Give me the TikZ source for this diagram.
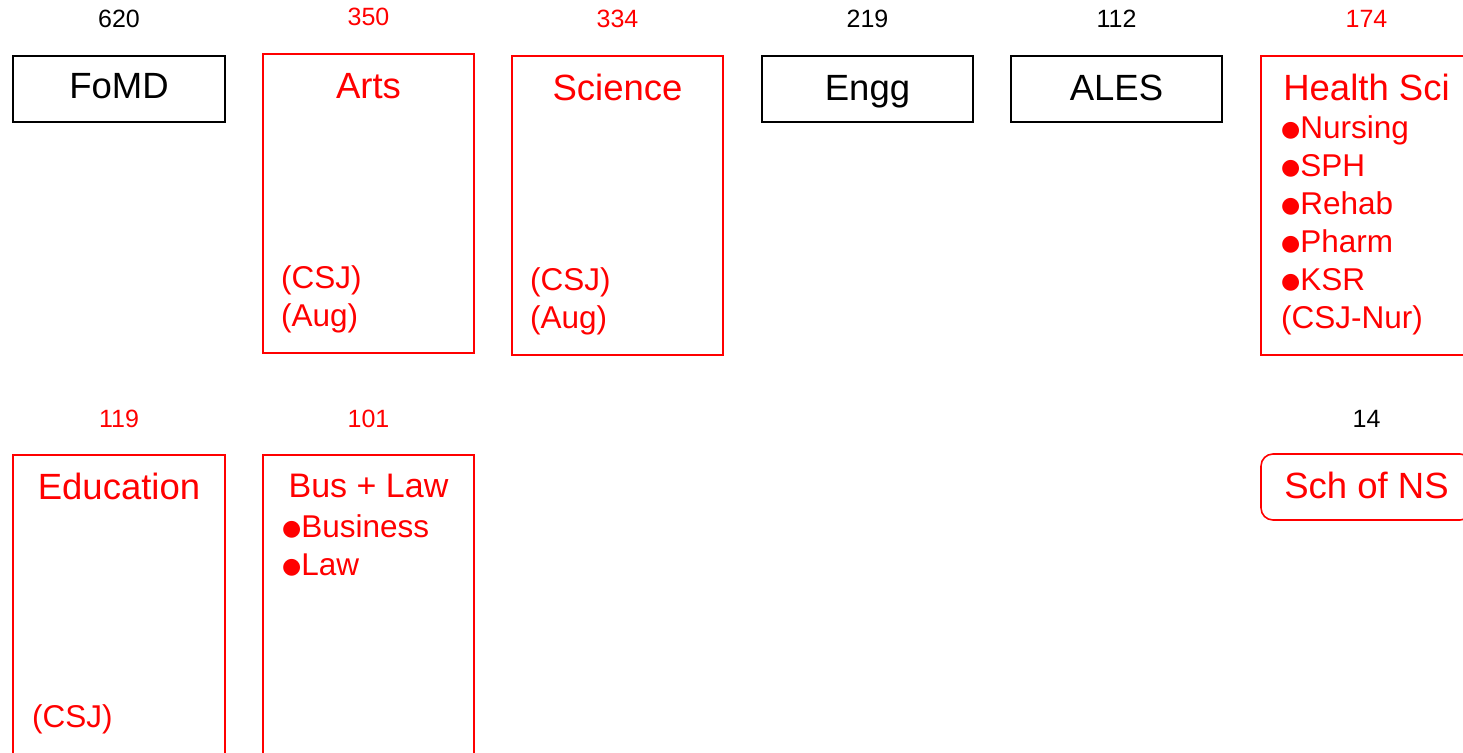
\documentclass[tikz,border=0pt]{standalone}
\usepackage{fontspec}
\setmainfont{Liberation Sans}
\newfontfamily\dejavu{DejaVu Sans}
\newcommand\bul{\raisebox{2pt}{\dejavu\fontsize{22}{22}\selectfont ●}}
\tikzset{
  box/.style={draw, line width=1.6pt, inner sep=0pt, rectangle, minimum width=211pt},
  shortbox/.style={box, minimum height=66pt},
  tallbox/.style={box, minimum height=299pt},
  num/.style={font=\fontsize{25}{25}\selectfont, anchor=base, inner sep=0pt},
  ttl/.style={font=\fontsize{36.5}{36.5}\selectfont, anchor=base, inner sep=0pt},
  itm/.style={font=\fontsize{31.5}{38}\selectfont, anchor=base west, inner sep=0pt},
}
\begin{document}
\begin{tikzpicture}[x=1pt,y=-1pt]
\useasboundingbox (0,0) rectangle (1463,752);
\clip (0,0) rectangle (1463,752);
% top row numbers
\node[num] (n1) at (119,28) {620};
\node[num,red] (n2) at (368.5,26) {350};
\node[num,red] (n3) at (617.5,28) {334};
\node[num] (n4) at (867.5,28) {219};
\node[num] (n5) at (1116.5,28) {112};
\node[num,red] (n6) at (1366.5,28) {174};
% bottom row numbers
\node[num,red] (n7) at (119,427) {119};
\node[num,red] (n8) at (368.5,427) {101};
\node[num] (n9) at (1366.5,427) {14};
% boxes
\node[shortbox,minimum width=212pt] (fomd) at (119,89) {};
\node[tallbox,red] (arts) at (368.5,203.5) {};
\node[tallbox,red] (sci) at (617.5,205.5) {};
\node[shortbox] (engg) at (867.5,89) {};
\node[shortbox] (ales) at (1116.5,89) {};
\node[tallbox,red] (hs) at (1366.5,205.5) {};
\node[tallbox,red,minimum width=212pt] (edu) at (119,604.5) {};
\node[tallbox,red] (bus) at (368.5,604.5) {};
\node[shortbox,red,rounded corners=12pt] (ns) at (1366.5,487) {};
% titles
\node[ttl] (tfomd) at (119,98) {FoMD};
\node[ttl,red] (tarts) at (368.5,98) {Arts};
\node[ttl,red] (tsci) at (617.5,100) {Science};
\node[ttl] (tengg) at (867.5,100) {Engg};
\node[ttl] (tales) at (1116.5,100) {ALES};
\node[ttl,red] (ths) at (1366.5,100) {Health Sci};
\node[ttl,red] (tedu) at (119,499) {Education};
\node[ttl,red,font=\fontsize{34}{34}\selectfont] (tbus) at (368.5,497) {Bus + Law};
\node[ttl,red] (tns) at (1366.5,498) {Sch of NS};
% items
\node[itm,red] (a1) at (281,288) {(CSJ)};
\node[itm,red] (a2) at (281,326) {(Aug)};
\node[itm,red] (s1) at (530,290) {(CSJ)};
\node[itm,red] (s2) at (530,328) {(Aug)};
\node[itm,red] (h1) at (1281,138) {\bul Nursing};
\node[itm,red] (h2) at (1281,176) {\bul SPH};
\node[itm,red] (h3) at (1281,214) {\bul Rehab};
\node[itm,red] (h4) at (1281,252) {\bul Pharm};
\node[itm,red] (h5) at (1281,290) {\bul KSR};
\node[itm,red] (h6) at (1281,328) {(CSJ-Nur)};
\node[itm,red] (e1) at (32,727) {(CSJ)};
\node[itm,red] (b1) at (282,537) {\bul Business};
\node[itm,red] (b2) at (282,575) {\bul Law};
\end{tikzpicture}
\end{document}
